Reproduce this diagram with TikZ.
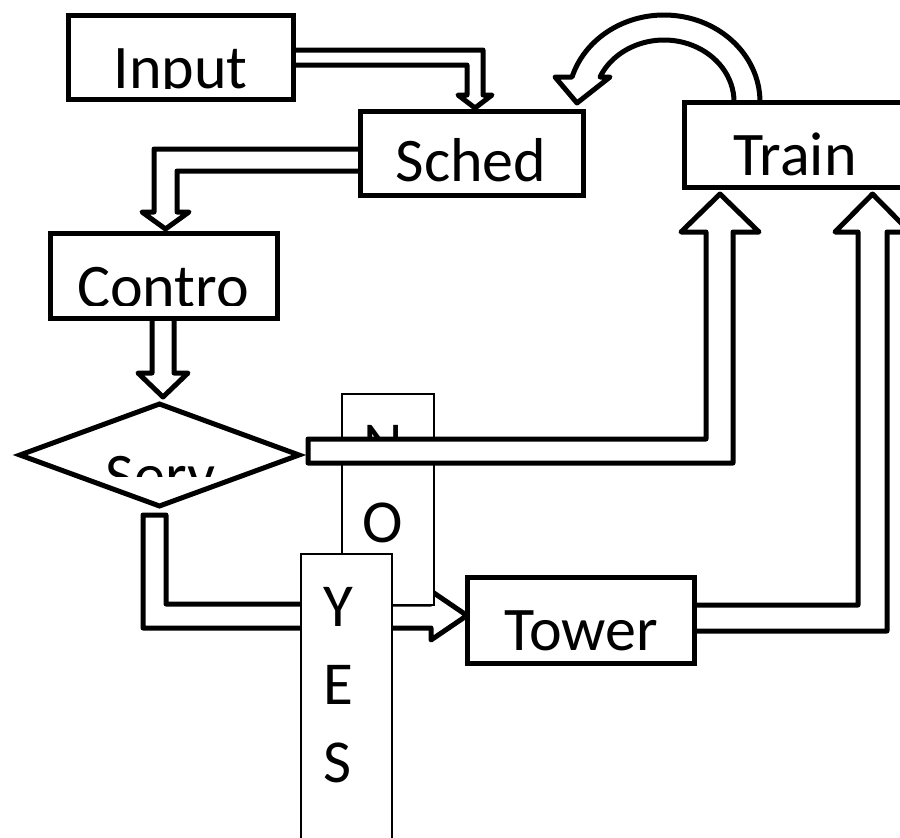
\documentclass[tikz,border=0pt]{standalone}
\usepackage{fontspec}
\setmainfont{Carlito}
\begin{document}
\begin{tikzpicture}[x=1pt,y=-1pt,
  box/.style={draw, line width=5pt, fill=white, rectangle, inner sep=0pt, outer sep=0pt},
  thinbox/.style={draw, line width=1.5pt, fill=white, rectangle, inner sep=0pt, outer sep=0pt},
  blockarrow/.style={draw, line width=5pt, fill=white, line join=round},
  lbl/.style={font=\fontsize{62}{78}\selectfont, inner sep=0pt, outer sep=0pt, anchor=base},
  vlbl/.style={font=\fontsize{61}{78}\selectfont, inner sep=0pt, outer sep=0pt, align=center, anchor=north}]
\path[use as bounding box] (0,0) rectangle (900,838);
\clip (0,0) rectangle (900,838);
\fill[white] (0,0) rectangle (900,838);

% arrows attached to boxes
\draw[blockarrow] (293,50) -- (483,50) -- (483,95) -- (492,95) -- (475,108) -- (458,95) -- (467,95) -- (467,65) -- (293,65);
\draw[blockarrow] (360,149) -- (154,149) -- (154,212) -- (142,212) -- (165.5,229) -- (189,212) -- (177,212) -- (177,171) -- (360,171);
\draw[blockarrow] (152,318) -- (152,373) -- (138,373) -- (163,397) -- (188,373) -- (174,373) -- (174,318);
\draw[blockarrow] (760,102) arc[start angle=0, end angle=-163.3, x radius=96, y radius=87] -- (555,77) -- (577,103) -- (610,77) -- (600,77) arc[start angle=-156.2, end angle=0, x radius=70, y radius=62];
\draw[blockarrow] (694,605) -- (858,605) -- (858,232) -- (835,232) -- (872.5,194) -- (910,232) -- (887,232) -- (887,631) -- (694,631);

% boxes
\node[box, minimum width=225pt, minimum height=84pt] (input) at (180.5,57) {};
\node[box, minimum width=223pt, minimum height=84pt] (sched) at (471.5,153) {};
\node[box, minimum width=222pt, minimum height=85pt] (train) at (795,144.5) {};
\node[box, minimum width=227pt, minimum height=85pt] (contro) at (163.5,275.5) {};
\node[box, minimum width=227pt, minimum height=86pt] (tower) at (580.5,620) {};

% decision
\coordinate (serv) at (159.5,455);
\draw[line width=5pt, fill=white, line join=miter] (20,455) -- (159.5,404) -- (299,455) -- (159.5,506) -- cycle;

% Serv -> Tower (YES)
\draw[blockarrow] (143,515) -- (166,515) -- (166,604) -- (431,604) -- (431,591) -- (467,615.5) -- (431,640) -- (431,628) -- (143,628) -- cycle;

% NO label box
\node[thinbox, minimum width=92pt, minimum height=211pt] (no) at (388,499.5) {};
\node[vlbl] (notext) at (383,425) {N\\O};

% Serv -> Train (NO)
\draw[blockarrow] (308,439) -- (706,439) -- (706,232) -- (681,232) -- (720,194) -- (759,232) -- (733,232) -- (733,463) -- (308,463) -- cycle;

% YES label box
\node[thinbox, minimum width=91pt, minimum height=296pt] (yes) at (346.5,702) {};
\node[vlbl] (yestext) at (338,587) {Y\\E\\S};

% clipped labels
\begin{scope}\clip (60,10) rectangle (300,88.5); \node[lbl] (inputtext) at (180.5,88) {Input};\end{scope}
\begin{scope}\clip (355,105) rectangle (590,183); \node[lbl] (schedtext) at (471,181.5) {Sched};\end{scope}
\begin{scope}\clip (680,105) rectangle (900,185); \node[lbl] (traintext) at (795,175) {Train};\end{scope}
\begin{scope}\clip (50,235) rectangle (280,305); \node[lbl] (controtext) at (163,307) {Contro};\end{scope}
\begin{scope}\clip (60,430) rectangle (260,476); \node[lbl] (servtext) at (160.5,496) {Serv};\end{scope}
\begin{scope}\clip (470,580) rectangle (690,650); \node[lbl] (towertext) at (581.5,650) {Tower};\end{scope}
\end{tikzpicture}
\end{document}
